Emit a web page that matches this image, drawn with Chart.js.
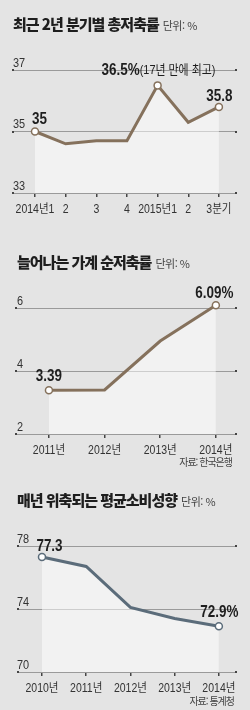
<!doctype html>
<html lang="ko">
<head>
<meta charset="utf-8">
<title>저축률</title>
<script src="https://cdn.jsdelivr.net/npm/chart.js"></script>
<style>
  body { margin: 0; background: #e4e4e4; width: 250px; height: 710px; overflow: hidden; position: relative;
         font-family: 'Noto Sans CJK KR', sans-serif; }
  .panel { position: absolute; left: 0; width: 250px; }
  .head { position: absolute; white-space: nowrap; display: flex; align-items: baseline; }
  .title { font-size: 15px; font-weight: 900; color: #1e1e1e; letter-spacing: -1px; }
  .unit { font-size: 11px; color: #444; margin-left: 4px; letter-spacing: -0.5px; }
  .src { position: absolute; font-size: 10px; color: #444; letter-spacing: -1px; white-space: nowrap; }
</style>
</head>
<body>

<div class="panel" style="top:0;height:230px">
  <div class="head" style="left:13px;top:13px"><span class="title">최근 2년 분기별 총저축률</span><span class="unit">단위: %</span></div>
  <canvas id="c1" width="250" height="230"></canvas>
</div>
<div class="panel" style="top:230px;height:240px">
  <div class="head" style="left:17px;top:21px"><span class="title">늘어나는 가계 순저축률</span><span class="unit">단위: %</span></div>
  <canvas id="c2" width="250" height="240"></canvas>
  <div class="src" style="right:18px;top:224px">자료: 한국은행</div>
</div>
<div class="panel" style="top:470px;height:240px">
  <div class="head" style="left:17px;top:19px"><span class="title">매년 위축되는 평균소비성향</span><span class="unit">단위: %</span></div>
  <canvas id="c3" width="250" height="240"></canvas>
  <div class="src" style="right:16px;top:223px">자료: 통계청</div>
</div>

<script>
// 분기별 총저축률
const quarterLabels = ['2014년1', '2', '3', '4', '2015년1', '2', '3분기'];
const grossSaving = [35, 34.6, 34.7, 34.7, 36.5, 35.3, 35.8];

// 가계 순저축률
const netYears = ['2011년', '2012년', '2013년', '2014년'];
const netSaving = [3.39, 3.4, 4.95, 6.09];

// 평균소비성향
const consYears = ['2010년', '2011년', '2012년', '2013년', '2014년'];
const consumption = [77.3, 76.7, 74.1, 73.4, 72.9];

const FONT = "'Liberation Sans', 'Noto Sans CJK KR', sans-serif";
const SX = 0.84;   // 글자 가로 압축
const BROWN = '#85715c';
const SLATE = '#5b6c7a';

// 캔버스 글자를 좁게 (신문 그래픽의 장체 흉내)
const condense = {
  id: 'condense',
  beforeInit(chart) {
    const ctx = chart.ctx;
    const orig = ctx.fillText.bind(ctx);
    ctx.fillText = function (t, x, y, m) {
      ctx.save();
      ctx.translate(x, y);
      ctx.scale(SX, 1);
      orig(t, 0, 0);
      ctx.restore();
    };
  }
};

// 값 라벨 그리기
const valueLabels = {
  id: 'valueLabels',
  afterDatasetsDraw(chart, args, opts) {
    const ctx = chart.ctx;
    const meta = chart.getDatasetMeta(0);
    ctx.save();
    ctx.textBaseline = 'middle';
    ctx.textAlign = 'left';
    ctx.fillStyle = '#1e1e1e';
    (opts.items || []).forEach(it => {
      const pt = meta.data[it.i];
      const widths = it.parts.map(p => { ctx.font = p.font; return ctx.measureText(p.text).width * SX; });
      const total = widths.reduce((a, b) => a + b, 0);
      let x = pt.x + it.dx;
      if (it.align === 'center') x -= total / 2;
      if (it.align === 'right') x -= total;
      it.parts.forEach((p, k) => {
        ctx.font = p.font;
        ctx.fillText(p.text, x, pt.y + it.dy);
        x += widths[k];
      });
    });
    ctx.restore();
  }
};

// 눈금선 양끝 점
const gridDots = {
  id: 'gridDots',
  afterDraw(chart) {
    const ctx = chart.ctx, a = chart.chartArea, ys = chart.scales.y;
    ctx.save();
    ctx.fillStyle = '#444';
    ys.ticks.forEach(t => {
      const y = Math.round(ys.getPixelForValue(t.value));
      ctx.fillRect(a.left, y - 1, 2, 2);
      ctx.fillRect(a.right - 2, y - 1, 2, 2);
    });
    ctx.restore();
  }
};

function makeChart(id, cfg) {
  const pts = cfg.values.map((v, i) => ({ x: i, y: v }));
  return new Chart(document.getElementById(id), {
    type: 'line',
    data: {
      datasets: [{
        data: pts,
        borderColor: cfg.color,
        borderWidth: 3,
        tension: 0,
        fill: 'start',
        backgroundColor: 'rgba(255,255,255,0.5)',
        clip: false,
        pointRadius: ctx => cfg.marks.includes(ctx.dataIndex) ? 3.5 : 0,
        pointBackgroundColor: '#fff',
        pointBorderColor: cfg.color,
        pointBorderWidth: 1.5
      }]
    },
    options: {
      responsive: false,
      animation: false,
      devicePixelRatio: 1,
      layout: { padding: { left: cfg.area.left, right: 250 - cfg.area.right, top: cfg.area.top, bottom: 0 } },
      plugins: {
        legend: { display: false },
        tooltip: { enabled: false },
        valueLabels: { items: cfg.items }
      },
      scales: {
        x: {
          type: 'linear',
          min: cfg.xMin, max: cfg.xMax,
          afterBuildTicks: s => { s.ticks = cfg.labels.map((_, i) => ({ value: i })); },
          afterFit: s => { s.height = cfg.height - cfg.area.bottom; },
          border: { display: false },
          grid: { drawOnChartArea: false, drawTicks: true, tickLength: 4, tickColor: '#444', lineWidth: 1.5 },
          ticks: {
            padding: 5,
            color: '#333',
            font: { family: FONT, size: 12.5 },
            maxRotation: 0,
            autoSkip: false,
            callback: v => cfg.labels[v]
          }
        },
        y: {
          min: cfg.yMin, max: cfg.yMax,
          afterFit: s => { s.width = 0; },
          border: { display: false },
          grid: { color: '#9a9a9a', lineWidth: 1, drawTicks: false, borderDash: [1, 2] },
          ticks: {
            stepSize: cfg.step,
            mirror: true,
            padding: cfg.yPad,
            labelOffset: -7,
            color: '#333',
            font: { family: FONT, size: 13 }
          }
        }
      }
    },
    plugins: [condense, valueLabels, gridDots]
  });
}

const B15 = 'bold 16px ' + FONT;

makeChart('c1', {
  labels: quarterLabels, values: grossSaving, color: BROWN,
  xMin: -0.75, xMax: 6.59, yMin: 33, yMax: 37, step: 2, yPad: 1,
  area: { left: 12, right: 237, top: 70, bottom: 193 }, height: 230,
  marks: [0, 4, 6],
  items: [
    { i: 0, dx: -3, dy: -11.5, align: 'left', parts: [{ text: '35', font: B15 }] },
    { i: 4, dx: -56, dy: -15, align: 'left', parts: [
      { text: '36.5%', font: B15 },
      { text: '(17년 만에 최고)', font: '13px ' + FONT }] },
    { i: 6, dx: 0.5, dy: -10.5, align: 'center', parts: [{ text: '35.8', font: B15 }] }
  ]
});

makeChart('c2', {
  labels: netYears, values: netSaving, color: BROWN,
  xMin: -0.61, xMax: 3.38, yMin: 2, yMax: 6, step: 2, yPad: 2,
  area: { left: 15, right: 237, top: 78, bottom: 204 }, height: 240,
  marks: [0, 3],
  items: [
    { i: 0, dx: 0, dy: -13.5, align: 'center', parts: [{ text: '3.39', font: B15 }] },
    { i: 3, dx: -1.5, dy: -12, align: 'center', parts: [{ text: '6.09%', font: B15 }] }
  ]
});

makeChart('c3', {
  labels: consYears, values: consumption, color: SLATE,
  xMin: -0.565, xMax: 4.41, yMin: 70, yMax: 78, step: 4, yPad: 0,
  area: { left: 17, right: 237, top: 76, bottom: 202 }, height: 240,
  marks: [0, 4],
  items: [
    { i: 0, dx: 7.5, dy: -10.5, align: 'center', parts: [{ text: '77.3', font: B15 }] },
    { i: 4, dx: 0.5, dy: -14, align: 'center', parts: [{ text: '72.9%', font: B15 }] }
  ]
});
</script>
</body>
</html>
